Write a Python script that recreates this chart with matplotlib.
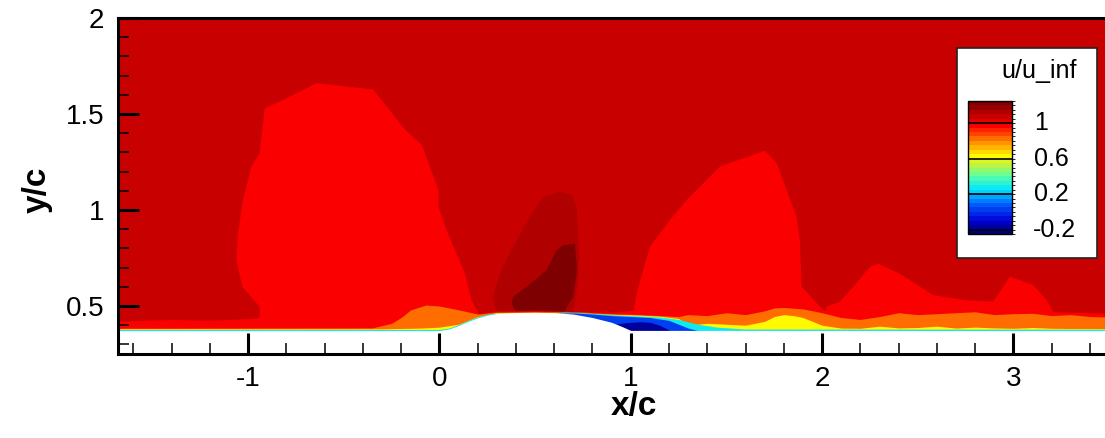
import numpy as np
import matplotlib
matplotlib.use("Agg")
import matplotlib.pyplot as plt
import matplotlib.transforms as mtransforms
from matplotlib.cm import ScalarMappable
from matplotlib.colors import LinearSegmentedColormap, ListedColormap, BoundaryNorm
from matplotlib.patches import Polygon, Rectangle
from matplotlib.ticker import MultipleLocator, FormatStrFormatter

plt.rcParams["font.family"] = ["Liberation Sans", "DejaVu Sans"]
plt.rcParams["axes.unicode_minus"] = False

# flood levels of u/u_inf and the labelled ones in the legend
levels = np.round(np.arange(-0.25, 1.2501, 0.05), 2)
legend_ticks = [1, 0.6, 0.2, -0.2]

# colormap anchors (value -> colour), tecplot-like rainbow
cmap_values = [-0.25, -0.1, 0.1, 0.25, 0.4, 0.55, 0.62, 0.8, 0.97, 1.25]
cmap_colors = ["#000066", "#0000d9", "#0066ff", "#00e6ff", "#59ffa6",
               "#ccf233", "#ffff00", "#ff8000", "#ff0000", "#730000"]

# flood values of the regions
u_freestream = 1.07
u_red = 0.97
u_wake = 1.12
u_wake_core = 1.22
u_orange = 0.82
u_yellow = 0.63
u_cyan = 0.27
u_blue = 0.02
u_navy = -0.18

# wall with the hump
wall_x = [-1.7, 0.0, 0.05, 0.1, 0.15, 0.2, 0.25, 0.3, 0.4, 0.5, 0.6, 0.7, 0.8, 0.9, 0.95, 1.0, 3.6]
wall_y = [0.372, 0.372, 0.38, 0.398, 0.42, 0.438, 0.452, 0.461, 0.466, 0.467, 0.465, 0.458, 0.44, 0.415, 0.395, 0.373, 0.372]

# iso-regions (outlines)
blob_left_x = [-0.94, -0.94, -1.03, -1.061, -1.053, -1.027, -0.983, -0.94, -0.913, -0.836, -0.643, -0.347,
               -0.178, -0.092, -0.005, -0.005, 0.03, 0.133, 0.168, 0.211, 0.211]
blob_left_y = [0.40, 0.497, 0.60, 0.74, 0.88, 1.052, 1.226, 1.295, 1.53, 1.564, 1.66, 1.628,
               1.417, 1.339, 1.104, 1.017, 0.913, 0.67, 0.531, 0.45, 0.40]

blob_mid_x = [1.0, 1.013, 1.031, 1.10, 1.205, 1.292, 1.466, 1.701, 1.763, 1.867, 1.884, 1.893, 1.989, 2.024, 2.024]
blob_mid_y = [0.40, 0.462, 0.566, 0.809, 0.948, 1.052, 1.226, 1.309, 1.243, 0.965, 0.844, 0.601, 0.497, 0.462, 0.40]

blob_right_x = [2.0, 2.024, 2.094, 2.163, 2.25, 2.294, 2.407, 2.581, 2.756, 2.895, 2.982, 3.104, 3.174,
                3.209, 3.348, 3.6, 3.6]
blob_right_y = [0.40, 0.497, 0.523, 0.60, 0.704, 0.72, 0.668, 0.557, 0.53, 0.523, 0.653, 0.61, 0.53,
                0.47, 0.444, 0.453, 0.40]

wake_x = [0.299, 0.281, 0.316, 0.385, 0.473, 0.542, 0.63, 0.691, 0.717, 0.73, 0.725, 0.699]
wake_y = [0.46, 0.548, 0.67, 0.809, 0.965, 1.069, 1.095, 1.078, 1.017, 0.774, 0.635, 0.46]

wake_core_x = [0.377, 0.385, 0.455, 0.56, 0.612, 0.647, 0.708, 0.72, 0.699, 0.647, 0.403]
wake_core_y = [0.515, 0.548, 0.60, 0.687, 0.79, 0.817, 0.826, 0.687, 0.548, 0.46, 0.46]

# boundary layer bands: top of each band along x
red_x = [-1.7, -1.4, -1.2, -1.0, -0.94, 0.2, 0.3, 0.5, 0.68, 0.75, 0.85, 0.95, 1.02, 2.0, 2.1, 2.2,
         2.4, 2.6, 2.8, 3.0, 3.2, 3.6]
red_top = [0.42, 0.43, 0.425, 0.435, 0.44, 0.46, 0.474, 0.476, 0.472, 0.47, 0.468, 0.47, 0.48, 0.48,
           0.475, 0.49, 0.5, 0.5, 0.5, 0.49, 0.47, 0.46]

orange_x = [-1.7, -0.35, -0.25, -0.2, -0.15, -0.07, 0.0, 0.1, 0.2, 0.3, 0.5, 0.65, 0.75, 0.85, 0.95,
            1.05, 1.15, 1.25, 1.3, 1.4, 1.5, 1.6, 1.7, 1.75, 1.8, 1.9, 2.0, 2.1, 2.2, 2.3, 2.4, 2.5,
            2.6, 2.7, 2.8, 2.9, 3.0, 3.1, 3.2, 3.3, 3.4, 3.6]
orange_top = [0.384, 0.386, 0.41, 0.44, 0.48, 0.505, 0.50, 0.48, 0.458, 0.468, 0.471, 0.47, 0.468,
              0.462, 0.458, 0.455, 0.45, 0.445, 0.455, 0.45, 0.465, 0.455, 0.475, 0.49, 0.492, 0.485,
              0.465, 0.44, 0.43, 0.445, 0.465, 0.455, 0.46, 0.465, 0.47, 0.455, 0.46, 0.462, 0.45,
              0.455, 0.445, 0.44]

yellow_x = [-1.7, -0.3, -0.1, 0.0, 0.1, 0.2, 0.3, 0.65, 0.75, 0.85, 0.95, 1.05, 1.15, 1.25, 1.3, 1.4,
            1.5, 1.6, 1.7, 1.75, 1.8, 1.85, 1.9, 1.95, 2.0, 2.1, 2.2, 2.3, 2.4, 2.5, 2.6, 2.7, 2.8,
            2.9, 3.0, 3.1, 3.2, 3.3, 3.4, 3.6]
yellow_top = [0.381, 0.381, 0.385, 0.39, 0.405, 0.445, 0.466, 0.466, 0.462, 0.458, 0.455, 0.452,
              0.447, 0.435, 0.40, 0.41, 0.405, 0.40, 0.42, 0.445, 0.455, 0.45, 0.44, 0.42, 0.40,
              0.385, 0.384, 0.395, 0.386, 0.388, 0.395, 0.385, 0.39, 0.386, 0.384, 0.388, 0.384,
              0.383, 0.383, 0.382]

cyan_x = [-1.7, 0.0, 0.05, 0.1, 0.15, 0.2, 0.25, 0.3, 0.6, 0.65, 0.75, 0.85, 0.95, 1.05, 1.15, 1.25,
          1.35, 1.45, 1.6, 3.6]
cyan_top = [0.378, 0.378, 0.385, 0.403, 0.425, 0.443, 0.457, 0.463, 0.463, 0.468, 0.465, 0.458,
            0.452, 0.448, 0.443, 0.43, 0.405, 0.39, 0.38, 0.379]

blue_x = [0.62, 0.7, 0.8, 0.9, 1.0, 1.1, 1.2, 1.25, 1.3, 1.35]
blue_top = [0.462, 0.464, 0.458, 0.45, 0.445, 0.44, 0.425, 0.405, 0.385, 0.372]

navy_x = [0.88, 0.95, 1.0, 1.05, 1.1, 1.15, 1.2]
navy_top = [0.40, 0.41, 0.415, 0.418, 0.415, 0.40, 0.375]


# colormap as discrete flood bands
lo, hi = cmap_values[0], cmap_values[-1]
base = LinearSegmentedColormap.from_list(
    "u_rainbow", [((v - lo) / (hi - lo), c) for v, c in zip(cmap_values, cmap_colors)])
centers = 0.5 * (levels[:-1] + levels[1:])
cmap = ListedColormap(base((centers - lo) / (hi - lo)))
norm = BoundaryNorm(levels, cmap.N)


def flood(u):
    return cmap(norm(u))


W, H = 1105, 438
fig = plt.figure(figsize=(W / 100, H / 100), dpi=100)
ax = fig.add_axes([118 / W, 84 / H, 991 / W, 336 / H])
ax.set_xlim(-1.68, 3.5)
ax.set_ylim(0.25, 2.0)
ax.set_facecolor(flood(u_freestream))

y_floor = 0.25
for bx, by, u in [(blob_left_x, blob_left_y, u_red),
                  (blob_mid_x, blob_mid_y, u_red),
                  (blob_right_x, blob_right_y, u_red),
                  (wake_x, wake_y, u_wake),
                  (wake_core_x, wake_core_y, u_wake_core)]:
    ax.add_patch(Polygon(np.column_stack([bx, by]), closed=True, fc=flood(u), ec="none", lw=0))

for bx, top, u in [(red_x, red_top, u_red),
                   (orange_x, orange_top, u_orange),
                   (yellow_x, yellow_top, u_yellow),
                   (cyan_x, cyan_top, u_cyan),
                   (blue_x, blue_top, u_blue),
                   (navy_x, navy_top, u_navy)]:
    ax.fill_between(bx, y_floor, top, color=flood(u), lw=0)

# solid wall
ax.fill_between(wall_x, y_floor, wall_y, color="white", lw=0)

ax.xaxis.set_major_locator(MultipleLocator(1))
ax.xaxis.set_minor_locator(MultipleLocator(0.2))
ax.yaxis.set_major_locator(MultipleLocator(0.5))
ax.yaxis.set_minor_locator(MultipleLocator(0.1))
ax.yaxis.set_major_formatter(FormatStrFormatter("%g"))
ax.tick_params(which="both", direction="in", top=False, right=False, colors="black", labelsize=20)
ax.tick_params(which="major", length=15, width=2.2)
ax.tick_params(which="minor", length=8, width=1.1)
ax.tick_params(axis="x", pad=9)
ax.tick_params(axis="y", pad=10)
for s in ax.spines.values():
    s.set_linewidth(2.2)

fig.text(634 / W, 1 - 407 / H, "x/c", ha="center", va="center", fontsize=24, fontweight="bold")
fig.text(37 / W, 1 - 190 / H, "y/c", ha="center", va="center", fontsize=24, fontweight="bold",
         rotation=90)

# legend box with colour bar
fig.add_artist(Rectangle((957 / W, 1 - 258 / H), 140 / W, 210 / H, transform=fig.transFigure,
                         fc="white", ec="#222222", lw=1.2, zorder=5))
cax = fig.add_axes([968 / W, 1 - 234 / H, 44 / W, 133 / H])
cax.set_zorder(6)
cb = fig.colorbar(ScalarMappable(norm=norm, cmap=cmap), cax=cax, spacing="proportional")
cb.outline.set_linewidth(1.0)
cax.set_yticks([])
for v in legend_ticks:
    cax.axhline(v, color="black", lw=1.2)

# numbers lined up on the decimal point, as in the tecplot legend
blend = mtransforms.blended_transform_factory(fig.transFigure, cax.transData)
for v in legend_ticks:
    if v < 0:
        fig.text(1076 / W, v, f"{v:g}", transform=blend, ha="right", va="center", fontsize=18, zorder=7)
    else:
        fig.text(1034 / W, v, f"{v:g}", transform=blend, ha="left", va="center", fontsize=18, zorder=7)
fig.text(1077 / W, 1 - 71 / H, "u/u_inf", ha="right", va="center", fontsize=18, zorder=7)

fig.savefig("out.png", dpi=100)
